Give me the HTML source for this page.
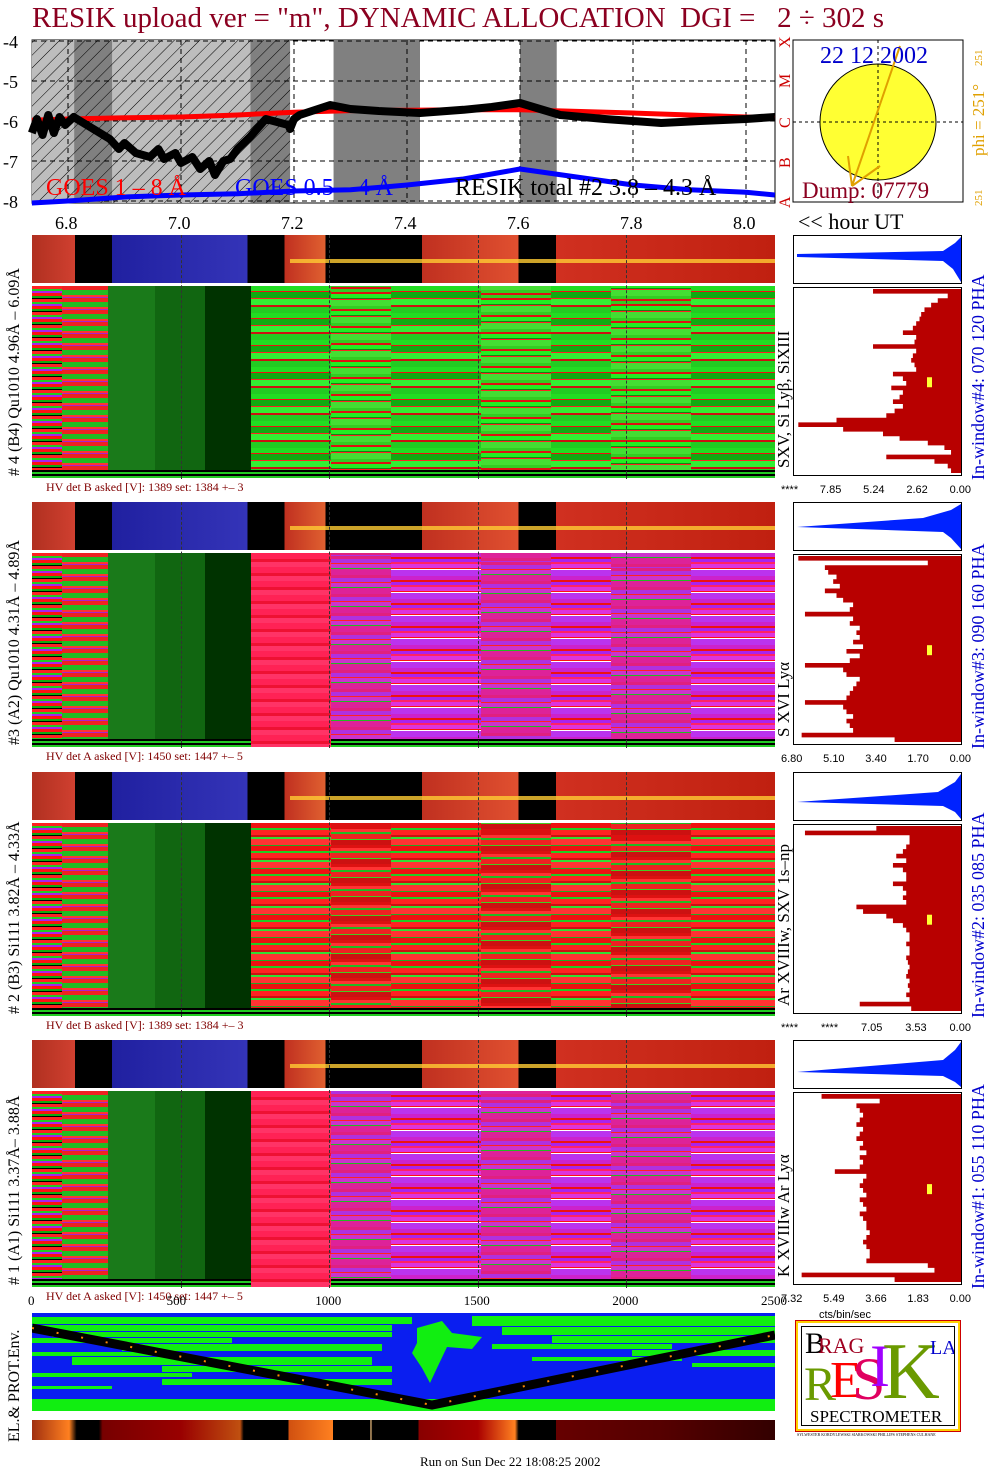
<!DOCTYPE html>
<html><head><meta charset="utf-8">
<style>
body{margin:0;background:#fff;width:1004px;height:1477px;position:relative;overflow:hidden;font-family:"Liberation Serif",serif}
.a{position:absolute}
.t{position:absolute;white-space:nowrap}
.rot{position:absolute;transform-origin:0 0;transform:rotate(-90deg);white-space:nowrap}
</style></head><body>
<div class="t" style="left:32px;top:2px;font-size:29px;color:#8b0020">RESIK upload ver = "m", DYNAMIC ALLOCATION&nbsp; DGI =&nbsp;&nbsp; 2 ÷ 302 s</div>

<svg class="a" style="left:0;top:36px" width="790" height="200" id="topsvg">
<defs><pattern id="hatch" width="9" height="9" patternUnits="userSpaceOnUse" patternTransform="rotate(45)"><line x1="0" y1="0" x2="0" y2="9" stroke="#000" stroke-width="1"/></pattern></defs>
</svg>

<svg class="a" style="left:790px;top:36px" width="214" height="175">
<rect x="3" y="4" width="170" height="162" fill="#fff" stroke="#000"/>
<circle cx="88" cy="86" r="58" fill="#ffff33" stroke="#000"/>
<line x1="3" y1="86" x2="173" y2="86" stroke="#000" stroke-dasharray="3,3"/>
<line x1="88" y1="4" x2="88" y2="166" stroke="#000" stroke-dasharray="3,3"/>
<line x1="110" y1="10" x2="62" y2="150" stroke="#e0a000" stroke-width="2"/>
<line x1="62" y1="150" x2="90" y2="130" stroke="#e0a000" stroke-width="2"/>
<line x1="62" y1="150" x2="58" y2="120" stroke="#e0a000" stroke-width="2"/>
<text x="30" y="27" font-size="24" fill="#0000cc" font-family="Liberation Serif">22 12 2002</text>
<text x="12" y="162" font-size="23" fill="#8b0020" font-family="Liberation Serif">Dump: 07779</text>
<text transform="translate(194,120) rotate(-90)" font-size="17" fill="#e0a000" font-family="Liberation Serif">phi = 251°</text>
<text transform="translate(192,170) rotate(-90)" font-size="11" fill="#e0a000">251</text>
<text transform="translate(192,30) rotate(-90)" font-size="11" fill="#e0a000">251</text>
</svg>
<div class="t" style="left:798px;top:209px;font-size:22px">&lt;&lt; hour UT</div>

<div id="panels"></div>

<div class="rot" style="left:6px;top:1442px;font-size:16px">EL.&amp; PROT.Env.</div>
<svg class="a" style="left:32px;top:1313px" width="743" height="98">
<rect width="743" height="98" fill="#0a1ef0"/>
<g fill="#11ee11">
<rect x="0" y="4" width="380" height="7"/><rect x="0" y="12" width="360" height="6"/><rect x="20" y="19" width="340" height="5"/>
<rect x="0" y="25" width="200" height="5"/><rect x="90" y="31" width="260" height="7"/><rect x="0" y="39" width="120" height="4"/>
<rect x="40" y="44" width="300" height="8"/><rect x="130" y="53" width="230" height="6"/><rect x="0" y="60" width="160" height="4"/>
<rect x="130" y="66" width="230" height="6"/><rect x="0" y="73" width="80" height="3"/>
<rect x="440" y="3" width="303" height="10"/><rect x="470" y="14" width="273" height="8"/><rect x="520" y="23" width="223" height="7"/>
<rect x="460" y="31" width="180" height="5"/><rect x="600" y="37" width="143" height="6"/><rect x="500" y="44" width="150" height="4"/>
<rect x="660" y="50" width="83" height="4"/>
<rect x="0" y="86" width="743" height="12"/>
<path d="M385 15 L410 8 L420 20 L450 24 L440 36 L415 34 L405 55 L398 70 L390 55 L380 40 L385 30Z"/>
</g>
<polyline points="0,15 400,92 743,22" fill="none" stroke="#000" stroke-width="9"/>
<polyline points="0,15 400,92 743,22" fill="none" stroke="#ff8800" stroke-width="2" stroke-dasharray="2,23"/>
</svg>
<div class="a" style="left:32px;top:1420px;width:743px;height:20px;background:linear-gradient(90deg,#a03010 0,#ff8020 5%,#000 6%,#000 9%,#700 9.5%,#900 20%,#c05010 28%,#000 28.5%,#000 34.5%,#d05010 34.5%,#ff8020 40.5%,#000 40.5%,#000 45.5%,#fc8 45.6%,#000 45.8%,#000 52%,#800 52%,#a00 60%,#ff8020 65%,#000 65.5%,#000 70.5%,#600 70.5%,#500 85%,#300 100%)"></div>

<div class="a" style="left:796px;top:1321px;width:160px;height:106px;border:2px solid #ffd000;outline:1px solid #c00;background:#fff">
<div class="a" style="left:3px;top:3px;width:152px;height:98px;border:1px solid #000;overflow:hidden">
<span class="t" style="left:3px;top:0;font-size:30px">B</span><span class="t" style="left:16px;top:6px;font-size:22px;color:#a00020">RAG</span>
<span class="t" style="left:2px;top:30px;font-size:48px;color:#6a9a00">R</span>
<span class="t" style="left:28px;top:24px;font-size:52px;color:#f00">E</span>
<span class="t" style="left:50px;top:18px;font-size:60px;color:#e00060">S</span>
<span class="t" style="left:68px;top:5px;font-size:60px;color:#a000ff">I</span>
<span class="t" style="left:80px;top:0;font-size:80px;color:#6a9a00">K</span>
<span class="t" style="left:128px;top:10px;font-size:20px;color:#00c">LA</span>
<span class="t" style="left:8px;top:80px;font-size:17px">SPECTROMETER</span>
</div></div>
<div class="t" style="left:797px;top:1432px;font-size:4px">SYLWESTER KORDYLEWSKI SIARKOWSKI PHILLIPS STEPHENS CULHANE</div>
<div class="t" style="left:420px;top:1454px;font-size:13px">Run on Sun Dec 22 18:08:25 2002</div>

<script>
const hourTicks=[6.8,7.0,7.2,7.4,7.6,7.8,8.0];
const yTicks=[-4,-5,-6,-7,-8];
const goesT=[6.736,6.8,6.9,7.0,7.1,7.2,7.3,7.4,7.5,7.6,7.7,7.8,7.9,8.0,8.051];
const goesLong=[-5.98,-5.95,-5.92,-5.9,-5.85,-5.78,-5.74,-5.73,-5.72,-5.72,-5.76,-5.8,-5.85,-5.9,-5.93];
const goesShort=[-8.05,-8.0,-7.9,-7.85,-7.82,-7.75,-7.72,-7.6,-7.45,-7.2,-7.4,-7.6,-7.72,-7.78,-7.85];
const resikT=[6.736,6.745,6.755,6.765,6.775,6.785,6.795,6.81,6.874,6.89,6.9,6.92,6.945,6.96,6.97,6.99,7.0,7.02,7.034,7.05,7.06,7.075,7.087,7.1,7.122,7.15,7.19,7.193,7.2,7.21,7.264,7.3,7.35,7.423,7.5,7.55,7.6,7.671,7.75,7.85,7.919,8.0,8.051];
const resikV=[-6.3,-5.95,-6.35,-5.85,-6.3,-5.9,-6.1,-5.9,-6.45,-6.7,-6.55,-6.8,-6.9,-6.7,-6.95,-6.8,-7.05,-6.9,-7.2,-7.0,-7.35,-7.0,-6.95,-6.7,-6.4,-5.95,-6.1,-6.2,-5.95,-5.85,-5.6,-5.7,-5.75,-5.8,-5.72,-5.65,-5.55,-5.85,-5.95,-6.05,-6.0,-5.95,-5.9];
const hatchSpan=[6.736,7.193];
const grayBands=[[6.811,6.878],[7.123,7.193],[7.27,7.423],[7.6,7.665]];
const chTicks=[0,500,1000,1500,2000,2500];
function xh(h){return 68+(h-6.8)*565;}
function yv(v){return 5+(-4-v)*40;}
function xc(c){return 32+c*743/2500;}
const NS='http://www.w3.org/2000/svg';
const svg=document.getElementById('topsvg');
function el(tag,attrs,parent){const e=document.createElementNS(NS,tag);for(const k in attrs)e.setAttribute(k,attrs[k]);(parent||svg).appendChild(e);return e;}
el('rect',{x:32,y:4,width:743,height:163,fill:'#fff',stroke:'#000'});
el('rect',{x:xh(hatchSpan[0]),y:4,width:xh(hatchSpan[1])-xh(hatchSpan[0]),height:163,fill:'#bdbdbd'});
grayBands.forEach(b=>{const r=el('rect',{x:xh(b[0]),y:4,width:xh(b[1])-xh(b[0]),height:163,fill:'#808080'});

});
el('rect',{x:xh(hatchSpan[0]),y:4,width:xh(hatchSpan[1])-xh(hatchSpan[0]),height:163,fill:'url(#hatch)'});
yTicks.forEach(v=>{el('line',{x1:32,x2:775,y1:yv(v),y2:yv(v),stroke:'#000','stroke-dasharray':'5,4'});
const t=el('text',{x:3,y:yv(v)+7,'font-size':18,'font-family':'Liberation Serif'});t.textContent=v;

});
hourTicks.forEach(h=>{el('line',{x1:xh(h),x2:xh(h),y1:4,y2:167,stroke:'#000','stroke-dasharray':'5,4'});
const t=el('text',{x:xh(h)-13,y:193,'font-size':18,'font-family':'Liberation Serif'});t.textContent=h.toFixed(1);

});
function line(ts,vs,col,w,name){const p=el('polyline',{points:ts.map((t,i)=>xh(t)+','+yv(vs[i])).join(' '),fill:'none',stroke:col,'stroke-width':w,'stroke-linejoin':'round'});

}
line(goesT,goesLong,'#ff0000',5,'goes-long-line');
line(goesT,goesShort,'#0000ff',5,'goes-short-line');
line(resikT,resikV,'#000',8,'resik-total-line');
['X','M','C','B','A'].forEach((c,i)=>{const t=el('text',{transform:`translate(790,${yv(-4-i)+7}) rotate(-90)`,'font-size':16,fill:'#c00','font-family':'Liberation Serif'});t.textContent=c;});
[['GOES 1 – 8 Å',46,'#f00'],['GOES 0.5 – 4 Å',235,'#00f'],['RESIK total #2  3.8 – 4.3 Å',455,'#000']].forEach(a=>{const t=el('text',{x:a[1],y:159,'font-size':24,fill:a[2],'font-family':'Liberation Serif'});t.textContent=a[0];

});

const panels=[
 {top:235,left:'# 4 (B4) Qu1010 4.96Å – 6.09Å',line:'SXV, Si Lyβ, SiXIII',win:'In-window#4:  070 120 PHA',hv:'HV det B asked [V]:  1389 set:  1384  +–    3',tick:['****','7.85','5.24','2.62','0.00'],mix:'g'},
 {top:502,left:'#3 (A2) Qu1010  4.31Å – 4.89Å',line:'S XVI Lyα',win:'In-window#3:  090 160 PHA',hv:'HV det A asked [V]:  1450 set:  1447  +–    5',tick:['6.80','5.10','3.40','1.70','0.00'],mix:'p'},
 {top:772,left:'# 2 (B3) Si111  3.82Å – 4.33Å',line:'Ar XVIIIw, SXV 1s–np',win:'In-window#2:  035 085 PHA',hv:'HV det B asked [V]:  1389 set:  1384  +–    3',tick:['****','****','7.05','3.53','0.00'],mix:'r'},
 {top:1040,left:'# 1 (A1) Si111  3.37Å–  3.88Å',line:'K XVIIIw  Ar Lyα',win:'In-window#1:  055 110 PHA',hv:'HV det A asked [V]:  1450 set:  1447  +–    5',tick:['7.32','5.49','3.66','1.83','0.00'],mix:'p'}];
const histLeft=[
 [53,8,14,18,22,24,25,27,29,35,27,28,53,27,29,30,28,27,41,35,33,42,35,37,41,35,40,45,75,98,71,47,37,20,10,6,45,16,8,6],
 [98,20,82,80,75,77,73,82,75,71,65,67,94,65,67,61,63,61,65,59,69,61,67,94,71,69,61,63,65,67,69,94,71,69,65,69,67,65,96,40],
 [51,94,31,31,33,35,39,33,41,35,33,33,41,35,33,35,33,63,59,45,41,35,33,31,31,33,31,31,33,32,31,32,33,31,32,31,33,31,61,30],
 [84,49,63,61,59,61,63,59,61,63,59,61,57,61,59,61,76,57,59,61,59,57,61,59,57,61,59,57,57,55,57,59,57,55,55,57,20,16,96,40]];
const P=document.getElementById('panels');
function div(css,name,parent){const d=document.createElement('div');d.style.cssText=css;


(parent||P).appendChild(d);return d;}
const mixes={
 g:['repeating-linear-gradient(180deg,#22dd22 0 5px,#ee1111 5px 6px,#11aa11 6px 12px,#ff2222 12px 13px,#33ee33 13px 19px,#cc1111 19px 21px,#22cc22 21px 27px)',
    'repeating-linear-gradient(180deg,#33cc22 0 3px,#dd1111 3px 5px,#22ee22 5px 9px,#118811 9px 10px,#ff2222 10px 11px,#44dd33 11px 17px)'],
 p:['repeating-linear-gradient(180deg,#cc22cc 0 4px,#ee1111 4px 6px,#aa22ee 6px 9px,#ff2266 9px 11px,#dd33dd 11px 15px,#ff1111 15px 16px,#ffffff 16px 17px,#bb33ee 17px 23px)',
    'repeating-linear-gradient(180deg,#e02080 0 3px,#b030e0 3px 7px,#ff2222 7px 8px,#cc33cc 8px 12px,#22bb22 12px 13px,#dd2299 13px 19px)'],
 r:['repeating-linear-gradient(180deg,#ee1111 0 5px,#22cc22 5px 7px,#ff2222 7px 12px,#cc1111 12px 14px,#33dd33 14px 16px,#ff3333 16px 22px,#22aa22 22px 23px)',
    'repeating-linear-gradient(180deg,#dd1111 0 3px,#ff3333 3px 6px,#22bb22 6px 8px,#ee2222 8px 13px,#44cc22 13px 14px,#cc1111 14px 19px)']};
const leftMix='repeating-linear-gradient(180deg,#ff2222 0 3px,#22cc22 3px 5px,#aa22ee 5px 7px,#ff1111 7px 10px,#11aa11 10px 12px,#000 12px 13px)';
const subCols=[[219,80],[299,60],[359,90],[449,70],[519,60],[579,80],[659,84]];
const blueShapes=['M168 2 L162 8 L150 16 L4 19 L4 22 L150 26 L160 34 L168 47Z','M168 2 L158 8 L130 16 L4 25 L150 30 L158 36 L168 47Z','M168 2 L162 10 L145 20 L4 30 L150 34 L162 40 L168 47Z','M168 2 L162 10 L150 20 L4 32 L150 36 L162 42 L168 47Z'];
panels.forEach((p,k)=>{
 const T=p.top;
 div(`position:absolute;left:32px;top:${T}px;width:743px;height:48px;background:linear-gradient(90deg,#b03020 0,#d04030 5.8%,#000 5.8%,#000 10.8%,#2020a0 10.8%,#3434b8 29%,#000 29%,#000 34%,#c03020 34%,#e06030 39.5%,#000 39.5%,#000 52.5%,#c03020 52.5%,#e05030 65.5%,#000 65.5%,#000 70.5%,#d03020 70.5%,#c02010 100%)`,'spectrum-strip');
 div(`position:absolute;left:290px;top:${T+24}px;width:485px;height:4px;background:#ffcc33;opacity:.8`,'line-trace');
 const bt=T+51, bh=(k==0?192:k==1?194:k==2?193:196);
 const big=div(`position:absolute;left:32px;top:${bt}px;width:743px;height:${bh}px;background:${mixes[p.mix][0]};overflow:hidden`,'detector-heatmap');
 subCols.forEach((c,i)=>{ if(i%2) div(`position:absolute;left:${c[0]}px;top:0;width:${c[1]}px;height:100%;background:${mixes[p.mix][1]};background-position:0 ${i*3}px`,'heatmap-col',big);});
 div(`position:absolute;left:0;top:0;width:30px;height:100%;background:${leftMix}`,'heatmap-col',big);
 div(`position:absolute;left:30px;top:0;width:46px;height:100%;background:repeating-linear-gradient(180deg,#ee2222 0 4px,#22bb22 4px 9px,#ff3333 9px 11px,#aa22cc 11px 12px)`,'heatmap-col',big);
 div(`position:absolute;left:76px;top:0;width:47px;height:100%;background:#1a7a1a`,'heatmap-col',big);
 div(`position:absolute;left:123px;top:0;width:50px;height:100%;background:#116611`,'heatmap-col',big);
 div(`position:absolute;left:173px;top:0;width:46px;height:100%;background:#003300`,'heatmap-col',big);
 div(`position:absolute;left:0;bottom:0;width:100%;height:8px;background:repeating-linear-gradient(180deg,#000 0 2px,#22cc22 2px 4px)`,'heatmap-bottom',big);
 if(p.mix=='p') div(`position:absolute;left:219px;top:0;width:80px;height:100%;background:repeating-linear-gradient(180deg,#ff2255 0 6px,#ee1133 6px 9px,#ff3366 9px 14px)`,'heatmap-col',big);
 const hv=div(`position:absolute;left:46px;top:${bt+bh+2}px;font-size:12px;color:#800000;white-space:nowrap`,'hv-readout');hv.textContent=p.hv;
 chTicks.slice(1,5).forEach(c=>div(`position:absolute;left:${xc(c)}px;top:${T}px;width:0;height:${bh+52}px;border-left:1px dashed #333`,'grid-line'));
 const lt=div(`position:absolute;left:6px;top:${bt+bh-2}px;transform-origin:0 0;transform:rotate(-90deg);white-space:nowrap;font-size:16px`,'detector-label');lt.textContent=p.left;
 const rl=div(`position:absolute;left:774px;top:${bt+bh-10}px;transform-origin:0 0;transform:rotate(-90deg);white-space:nowrap;font-size:17px`,'line-label');rl.textContent=p.line;
 const wl=div(`position:absolute;left:968px;top:${bt+bh+2}px;transform-origin:0 0;transform:rotate(-90deg);white-space:nowrap;font-size:18px;color:#0000cc`,'window-label');wl.textContent=p.win;
 const s=document.createElementNS(NS,'svg');s.setAttribute('width',170);s.setAttribute('height',bh+55);
 s.style.cssText=`position:absolute;left:793px;top:${T}px`;
 
 
 P.appendChild(s);
 el('rect',{x:0.5,y:0.5,width:168,height:48,fill:'#fff',stroke:'#000'},s);
 el('path',{d:blueShapes[k],fill:'#0022ff'},s);
 el('rect',{x:0.5,y:52.5,width:168,height:bh-4,fill:'#fff',stroke:'#000'},s);
 const hl=histLeft[k], n=hl.length, pts=[], step=(bh-8)/n;
 hl.forEach((w,i)=>{const y=54+i*step, x=168-w*1.66; pts.push(x+','+y, x+','+(y+step));});
 el('polygon',{points:'168,54 '+pts.join(' ')+' 168,'+(54+n*step),fill:'#b80000'},s);
 el('rect',{x:134,y:52+bh*0.47,width:5,height:10,fill:'#ffff33'},s);
 const tk=div(`position:absolute;left:781px;top:${bt+bh+6}px;width:190px;font-size:11px;display:flex;justify-content:space-between;font-family:"Liberation Sans",sans-serif`,'hist-axis-ticks');
 p.tick.forEach(v=>{const sp=document.createElement('span');sp.textContent=v;tk.appendChild(sp);});
});
const xu=div('position:absolute;left:819px;top:1309px;font-size:11px;font-family:"Liberation Sans",sans-serif','hist-axis-unit');xu.textContent='cts/bin/sec';
chTicks.forEach(c=>{const t=div(`position:absolute;left:${xc(c)-(c?14:4)}px;top:1293px;font-size:13px`,'channel-tick-label');t.textContent=c;});
</script>
</body></html>
